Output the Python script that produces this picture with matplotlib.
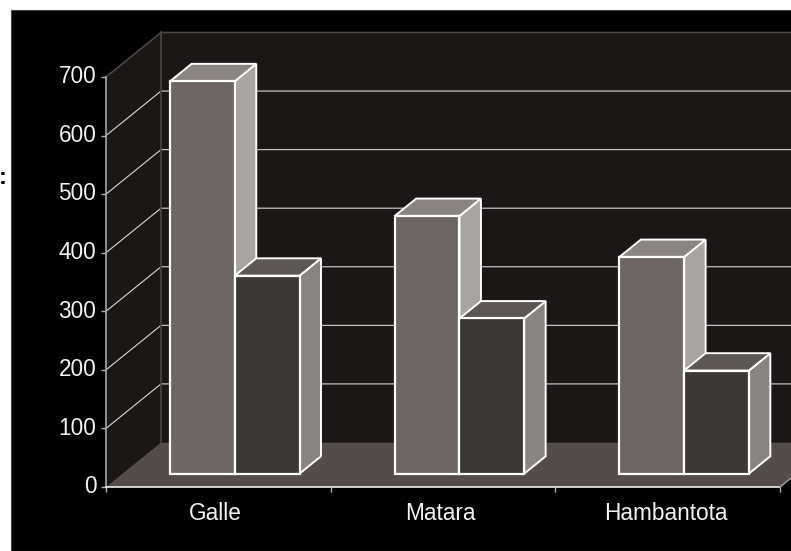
import matplotlib
matplotlib.use('Agg')
import matplotlib.pyplot as plt
from matplotlib.patches import Polygon, Rectangle
from matplotlib.transforms import ScaledTranslation

plt.rcParams['font.family'] = ['Liberation Sans', 'DejaVu Sans']

cities = ['Galle', 'Matara', 'Hambantota']
first_series = [670, 440, 370]
second_series = [338, 265, 176]
y_ticks = [0, 100, 200, 300, 400, 500, 600, 700]

# oblique projection: depth 0 is the front of the floor, 1 the back wall
DX = 55 / 224.7
DY = 76

FRONT = 0.3
BACK = 0.69
WIDTH = 0.288


def proj(x, y, d):
    return (x + d * DX, y + d * DY)


def face(ax, pts, color, edge='none', lw=0, z=2):
    ax.add_patch(Polygon(pts, closed=True, facecolor=color, edgecolor=edge, linewidth=lw,
                         joinstyle='miter', clip_on=False, zorder=z))


def bar3d(ax, x, value, front, top, side, z):
    x2 = x + WIDTH
    edge = 'white'
    face(ax, [proj(x2, 0, FRONT), proj(x2, 0, BACK), proj(x2, value, BACK), proj(x2, value, FRONT)], side, edge, 1.4, z)
    face(ax, [proj(x, value, FRONT), proj(x2, value, FRONT), proj(x2, value, BACK), proj(x, value, BACK)], top, edge, 1.4, z)
    face(ax, [proj(x, 0, FRONT), proj(x2, 0, FRONT), proj(x2, value, FRONT), proj(x, value, FRONT)], front, edge, 1.6, z)


fig = plt.figure(figsize=(7.91, 5.51), dpi=100, facecolor='white')
fig.add_artist(Rectangle((11 / 791, 0), 1, 541 / 551, transform=fig.transFigure,
                         facecolor='black', edgecolor='#444444', linewidth=0.8, zorder=-1))
fig.text(7 / 791, 1 - 178 / 551, 'e:', color='black', fontsize=17, fontweight='bold', ha='right', va='center')

ax = fig.add_axes([106 / 791, 64 / 551, 674 / 791, 410 / 551])
ax.patch.set_alpha(0)
ax.set_xlim(0, 3)
ax.set_ylim(0, 700)
for s in ax.spines.values():
    s.set_visible(False)

# walls and floor
face(ax, [proj(0, 0, 1), proj(3, 0, 1), proj(3, 700, 1), proj(0, 700, 1)], '#1a1716', z=1)
face(ax, [proj(0, 0, 0), proj(0, 0, 1), proj(0, 700, 1), proj(0, 700, 0)], '#1a1716', z=1)
face(ax, [proj(0, 0, 0), proj(3, 0, 0), proj(3, 0, 1), proj(0, 0, 1)], '#544c4a', z=1)

for v in y_ticks[1:-1]:
    p0, p1, p2 = proj(0, v, 0), proj(0, v, 1), proj(3, v, 1)
    ax.plot([p0[0], p1[0], p2[0]], [p0[1], p1[1], p2[1]], color='#d8d6d4', lw=0.8,
            clip_on=False, zorder=1.5)

# wall outlines
top0, top1, top2 = proj(0, 700, 0), proj(0, 700, 1), proj(3, 700, 1)
ax.plot([top0[0], top1[0], top2[0]], [top0[1], top1[1], top2[1]], color='#4a4644', lw=1.2,
        clip_on=False, zorder=1.6)
b1 = proj(0, 0, 1)
ax.plot([b1[0], top1[0]], [b1[1], top1[1]], color='#4a4644', lw=1.2, clip_on=False, zorder=1.6)
ax.plot([0, 0], [0, 700], color='#a8a5a3', lw=1.2, clip_on=False, zorder=1.7)
ax.plot([0, 3], [0, 0], color='#eeeeee', lw=1.2, clip_on=False, zorder=1.7)
e1 = proj(3, 0, 1)
ax.plot([3, e1[0]], [0, e1[1]], color='#a8a5a3', lw=1, clip_on=False, zorder=1.7)

for i in range(len(cities)):
    left = i + 0.5 - WIDTH
    bar3d(ax, left, first_series[i], '#6e6664', '#8a8482', '#a8a4a2', 3 + i)
    bar3d(ax, left + WIDTH, second_series[i], '#3c3835', '#5c5654', '#888482', 3.5 + i)

ax.set_yticks(y_ticks)
ax.tick_params(axis='y', length=3.6, width=1, color='#b8b5b3', labelcolor='#f2f2f2',
               labelsize=16.3, pad=3.4)
# the labels sit slightly above their ticks in the original
up = ScaledTranslation(0, 2 / 72, fig.dpi_scale_trans)
for lab in ax.get_yticklabels():
    lab.set_transform(lab.get_transform() + up)

ax.set_xticks([0, 1, 2, 3])
ax.set_xticklabels([])
ax.tick_params(axis='x', which='major', length=3.6, width=1, color='#b8b5b3')
ax.set_xticks([0.487, 1.487, 2.493], minor=True)
ax.set_xticklabels(cities, minor=True)
ax.tick_params(axis='x', which='minor', length=0, labelcolor='#f2f2f2', labelsize=16.3, pad=10.5)

fig.savefig('out.png', dpi=100, facecolor='white')
